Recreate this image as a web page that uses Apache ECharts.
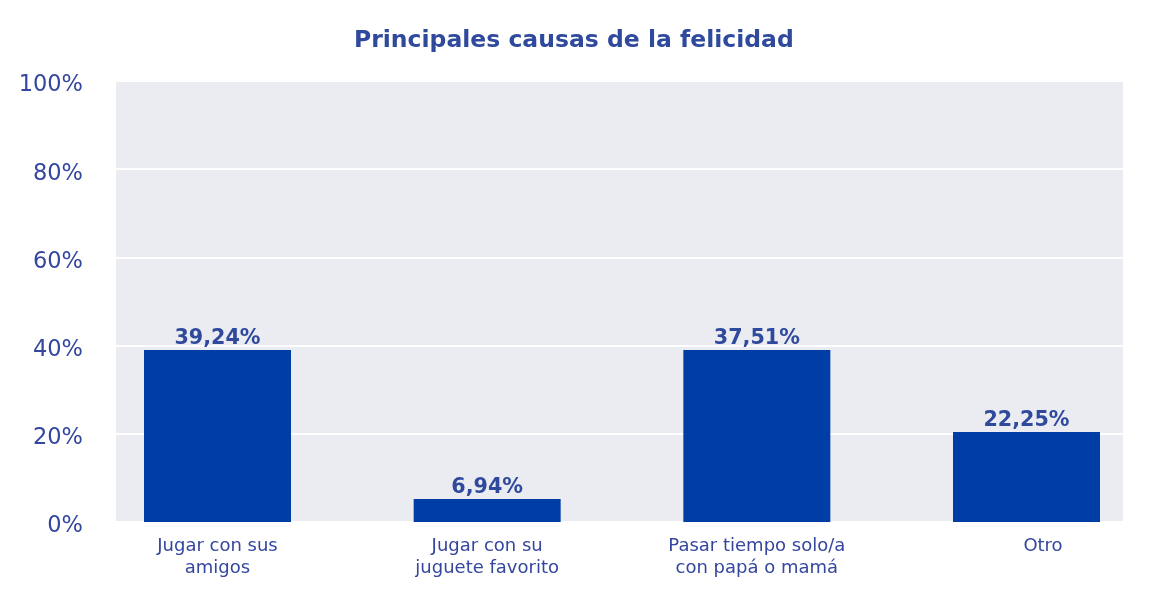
<!DOCTYPE html>
<html>
<head>
<meta charset="utf-8">
<script src="https://cdn.jsdelivr.net/npm/echarts@6/dist/echarts.min.js"></script>
<style>html,body{margin:0;padding:0;background:#fff}#c{width:1155px;height:608px}</style>
</head>
<body>
<div id="c"></div>
<script>
const title = 'Principales causas de la felicidad';
const categories = ['Jugar con sus\namigos', 'Jugar con su\njuguete favorito', 'Pasar tiempo solo/a\ncon papá o mamá', 'Otro'];
const barValues = [39.0, 5.2, 39.0, 20.4];
const barLabels = ['39,24%', '6,94%', '37,51%', '22,25%'];
const yTicks = [0, 20, 40, 60, 80, 100];

const TXT = '#34469E';
const FONT = '"DejaVu Sans", sans-serif';
const chart = echarts.init(document.getElementById('c'), null, {renderer: 'canvas'});
chart.setOption({
  backgroundColor: '#ffffff',
  animation: false,
  title: {
    text: title, left: 349, top: 24,
    textStyle: {color: '#2F4A9C', fontSize: 23.5, fontWeight: 'bold', fontFamily: FONT}
  },
  grid: [
    {left: 116, width: 1007, top: 81, bottom: 86, show: true, backgroundColor: '#EBECF2', borderWidth: 0},
    {left: 217.5, width: 809, top: 81, bottom: 86}
  ],
  xAxis: [
    {gridIndex: 0, type: 'category', data: categories, show: false},
    {gridIndex: 1, type: 'category', data: categories, boundaryGap: false,
     axisLine: {show: false}, axisTick: {show: false},
     axisLabel: {color: TXT, fontSize: 18, lineHeight: 22, margin: 13, fontFamily: FONT, interval: 0,
       formatter: v => v === 'Otro' ? '{o|' + v + '}' : v,
       rich: {o: {color: TXT, fontSize: 18, fontFamily: FONT, padding: [0, 0, 0, 33]}}}}
  ],
  yAxis: [
    {gridIndex: 0, type: 'value', min: 0, max: 100, interval: 20,
     axisLine: {show: false}, axisTick: {show: false},
     splitLine: {lineStyle: {color: '#ffffff', width: 2}},
     axisLabel: {margin: 33,
       formatter: v => yTicks.includes(v) ? '{a|' + v + '%}' : '',
       rich: {a: {color: TXT, fontSize: 22.5, fontFamily: FONT, padding: [9, 0, 0, 0]}}}},
    {gridIndex: 1, type: 'value', min: 0, max: 100, interval: 20, show: false, splitLine: {show: false}}
  ],
  series: [{
    type: 'bar', xAxisIndex: 1, yAxisIndex: 1, clip: false,
    data: barValues, barWidth: 147,
    itemStyle: {color: '#003DA5'},
    label: {show: true, position: 'top', distance: 1, color: '#2F4A9C', fontSize: 20.7, fontWeight: 'bold', fontFamily: FONT,
      formatter: p => barLabels[p.dataIndex]}
  }]
});
</script>
</body>
</html>
